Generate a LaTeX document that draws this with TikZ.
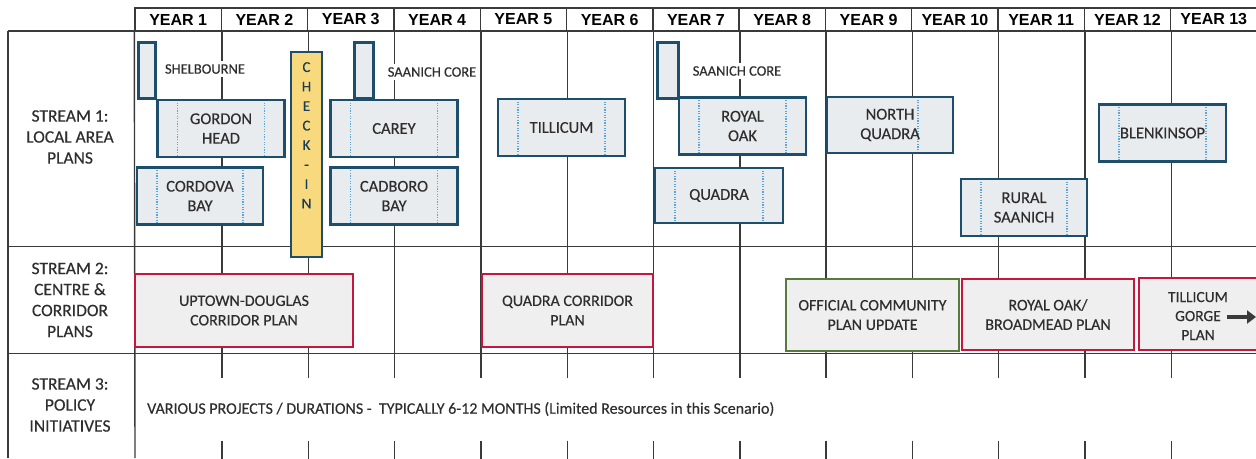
\documentclass[tikz,border=0pt]{standalone}
\usepackage{fontspec}
\setmainfont{Carlito}[FakeBold=0.35]
\newfontfamily\headfont{Liberation Sans}
\usetikzlibrary{arrows.meta}

\definecolor{lapblue}{HTML}{1D4E6B}
\definecolor{boxgrey}{HTML}{E9ECEE}
\definecolor{plangrey}{HTML}{EFEFEF}
\definecolor{dotblue}{HTML}{5BA8D8}
\definecolor{chkyellow}{HTML}{F8D97E}
\definecolor{corrred}{HTML}{C6163F}
\definecolor{ocpgreen}{HTML}{587A3C}
\definecolor{gridgrey}{HTML}{3A3A3A}
\definecolor{txtgrey}{HTML}{2E2E2E}

\begin{document}
\begin{tikzpicture}
    [
    x=1pt, y=-1pt,
    grid/.style={draw=gridgrey,line width=1.4pt},
    yearcell/.style={grid,minimum width=86.3pt,minimum height=23pt,inner sep=0pt,
      font=\headfont\bfseries\fontsize{16}{18}\selectfont},
    streamlabel/.style={align=center,text=txtgrey,font=\fontsize{17.5}{21}\selectfont},
    dots/.style={draw=dotblue,line width=1.6pt,dash pattern=on 1.2pt off 1.4pt},
    lap/.style={draw=lapblue,fill=boxgrey,line width=2.6pt,minimum width=127pt,
      minimum height=57pt,inner sep=0pt,align=center,text=txtgrey,
      font=\fontsize{16.5}{19.5}\selectfont,
      path picture={
        \draw [dots] ([xshift=20pt]path picture bounding box.north west)
          -- ([xshift=20pt]path picture bounding box.south west);
        \draw [dots] ([xshift=-20pt]path picture bounding box.north east)
          -- ([xshift=-20pt]path picture bounding box.south east);}},
    lapbar/.style={draw=lapblue,fill=boxgrey,line width=2.6pt,minimum height=56pt,
      inner sep=0pt},
    baylabel/.style={fill=white,inner sep=3pt,text=txtgrey,font=\fontsize{14.5}{16}\selectfont},
    plan/.style={draw=corrred,fill=plangrey,line width=2.4pt,minimum height=73pt,
      inner sep=0pt,align=center,text=txtgrey,font=\fontsize{16}{19.5}\selectfont}
    ]
    \clip (0,0) rectangle (1256,458);

    % header and grid
    \foreach \i in {1,...,13}
      \node (y\i) at ({135+86.3*(\i-0.5)},19.5) [yearcell] {YEAR \i};
    \draw [grid] (8,31) -- (1256,31);
    \draw [grid] (8,31) -- (8,458);
    \draw [grid] (y1.south west) -- (135,458);
    \draw [grid] (8,246.5) -- (1256,246.5);
    \draw [grid] (8,353.5) -- (1256,353.5);
    \foreach \i in {1,...,12} {
      \draw [grid] (y\i.south east) -- ++(0,322.5);
      \draw [grid] (y\i.south east) ++(0,322.5) -- ++(0,24);
      \draw [grid] (y\i.south east) ++(0,409) -- ++(0,18);
    }

    % stream labels
    \node (s1) at (70,137) [streamlabel] {STREAM 1:\\LOCAL AREA\\PLANS};
    \node (s2) at (70,300) [streamlabel] {STREAM 2:\\CENTRE \&\\CORRIDOR\\PLANS};
    \node (s3) at (70,405) [streamlabel] {STREAM 3:\\POLICY\\INITIATIVES};

    % stream 1: local area plans
    \node (shelbar) at (147,70.5) [lapbar,minimum width=17pt] {};
    \node (shel) at (205,69) [baylabel] {SHELBOURNE};
    \node (gordon) at (221,128.5) [lap] {GORDON\\HEAD};
    \node (cordova) at (200,196) [lap,minimum width=126pt] {CORDOVA\\BAY};
    \node (checkin) at (306.5,154.5) [draw=lapblue,fill=chkyellow,line width=2.6pt,
      minimum width=31pt,minimum height=205pt,inner sep=0pt] {};
    \node (chk) at (306.5,62) [anchor=north,align=center,inner sep=0pt,
      text=lapblue!80!black,font=\fontsize{15}{19.5}\selectfont]
      {C\\H\\E\\C\\K\\-\\I\\N};
    \node (sc1bar) at (364,70.5) [lapbar,minimum width=19pt] {};
    \node (sc1) at (432,72) [baylabel] {SAANICH CORE};
    \node (carey) at (394,128.5) [lap] {CAREY};
    \node (cadboro) at (394,196) [lap] {CADBORO\\BAY};
    \node (tillicum) at (561.5,127.5) [lap] {TILLICUM};
    \node (sc2bar) at (668,70.5) [lapbar,minimum width=21pt] {};
    \node (sc2) at (737,71) [baylabel] {SAANICH CORE};
    \node (royaloak) at (742.5,126) [lap] {ROYAL\\OAK};
    \node (quadra) at (719,195.5) [lap,minimum width=128pt,minimum height=55pt] {QUADRA};
    \node (nquadra) at (890,125) [lap,minimum width=126pt,minimum height=56pt,
      path picture={\draw [dots] ([xshift=-35pt]path picture bounding box.north east)
        -- ([xshift=-35pt]path picture bounding box.south east);}] {NORTH\\QUADRA};
    \node (rural) at (1024,207.5) [lap,minimum width=126pt] {RURAL\\SAANICH};
    \node (blenk) at (1162.5,133) [lap] {BLENKINSOP};

    % stream 2: centre and corridor plans
    \node (uptown) at (244,310.5) [plan,minimum width=218pt] {UPTOWN-DOUGLAS\\CORRIDOR PLAN};
    \node (qcorr) at (567.5,310.5) [plan,minimum width=171pt] {QUADRA CORRIDOR\\PLAN};
    \node (ocp) at (872.5,315) [plan,draw=ocpgreen,minimum width=173pt,minimum height=72pt]
      {OFFICIAL COMMUNITY\\PLAN UPDATE};
    \node (robroad) at (1048,314.5) [plan,minimum width=172pt,minimum height=71pt]
      {ROYAL OAK/\\BROADMEAD PLAN};
    \node (tgorge) at (1209.5,314) [plan,minimum width=141pt,minimum height=72pt] {};
    \node (tgtext) at (1198,316) [align=center,text=txtgrey,font=\fontsize{15.5}{19}\selectfont]
      {TILLICUM\\GORGE\\PLAN};
    \coordinate (arrS) at (1227,317);
    \coordinate (arrE) at (1256,317);
    \draw [-{Triangle[length=9pt,width=13pt]},line width=4.5pt,draw=gridgrey] (arrS) -- (arrE);

    % stream 3: policy initiatives
    \node (policy) at (147,409) [anchor=west,inner sep=0pt,text=txtgrey,
      font=\fontsize{16}{18}\selectfont]
      {VARIOUS PROJECTS / DURATIONS -\ \ TYPICALLY 6-12 MONTHS (Limited Resources in this Scenario)};
  \end{tikzpicture}
\end{document}
